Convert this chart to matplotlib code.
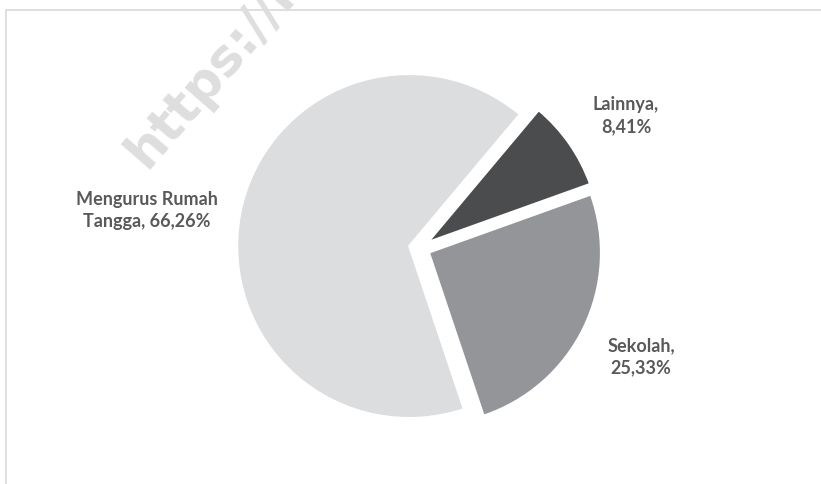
import numpy as np
import matplotlib
matplotlib.use("Agg")
import matplotlib.pyplot as plt

# pekerjaan utama (persen)
categories = ["Lainnya", "Sekolah", "Mengurus Rumah\nTangga"]
values = [8.41, 25.33, 66.26]
label_sep = ["\n", "\n", " "]

colors = ["#4b4c4e", "#939598", "#dcdddf"]

W, H = 821, 484
fig = plt.figure(figsize=(W / 100, H / 100), dpi=100)
ax = fig.add_axes([0, 0, 1, 1])

# chart frame
ax.plot([6, 6, W + 5], [-5, H - 9.5, H - 9.5], color="#d9d9d9", lw=1.2, zorder=1)

cx, cy, r = 419.5, 236, 172
ax.pie(values, colors=colors, explode=[10.5] * len(values), startangle=50,
       counterclock=False, center=(cx, cy), radius=r,
       wedgeprops=dict(edgecolor="white", linewidth=1.5))
ax.set_xlim(0, W)
ax.set_ylim(0, H)
ax.set_aspect("equal")
ax.axis("off")

# data labels outside the slices
label_angle = [32.6, -26.2, 172.1]
label_dist = [1.425, 1.435, 1.60]
for name, v, sep, a, d in zip(categories, values, label_sep, label_angle, label_dist):
    txt = f"{name},{sep}{v:.2f}%".replace(".", ",")
    ax.text(cx + d * r * np.cos(np.radians(a)), cy + d * r * np.sin(np.radians(a)),
            txt, ha="center", va="center", fontsize=13, fontweight="bold",
            family="Lato", color="#595959", linespacing=1.38)

# watermark
ax.text(146, H - 170, "https://k", rotation=49, rotation_mode="anchor",
        ha="left", va="baseline", fontsize=37, fontweight="bold",
        family="DejaVu Sans", color="#dedede", zorder=5, clip_on=True)

fig.savefig("out.png", dpi=100)
